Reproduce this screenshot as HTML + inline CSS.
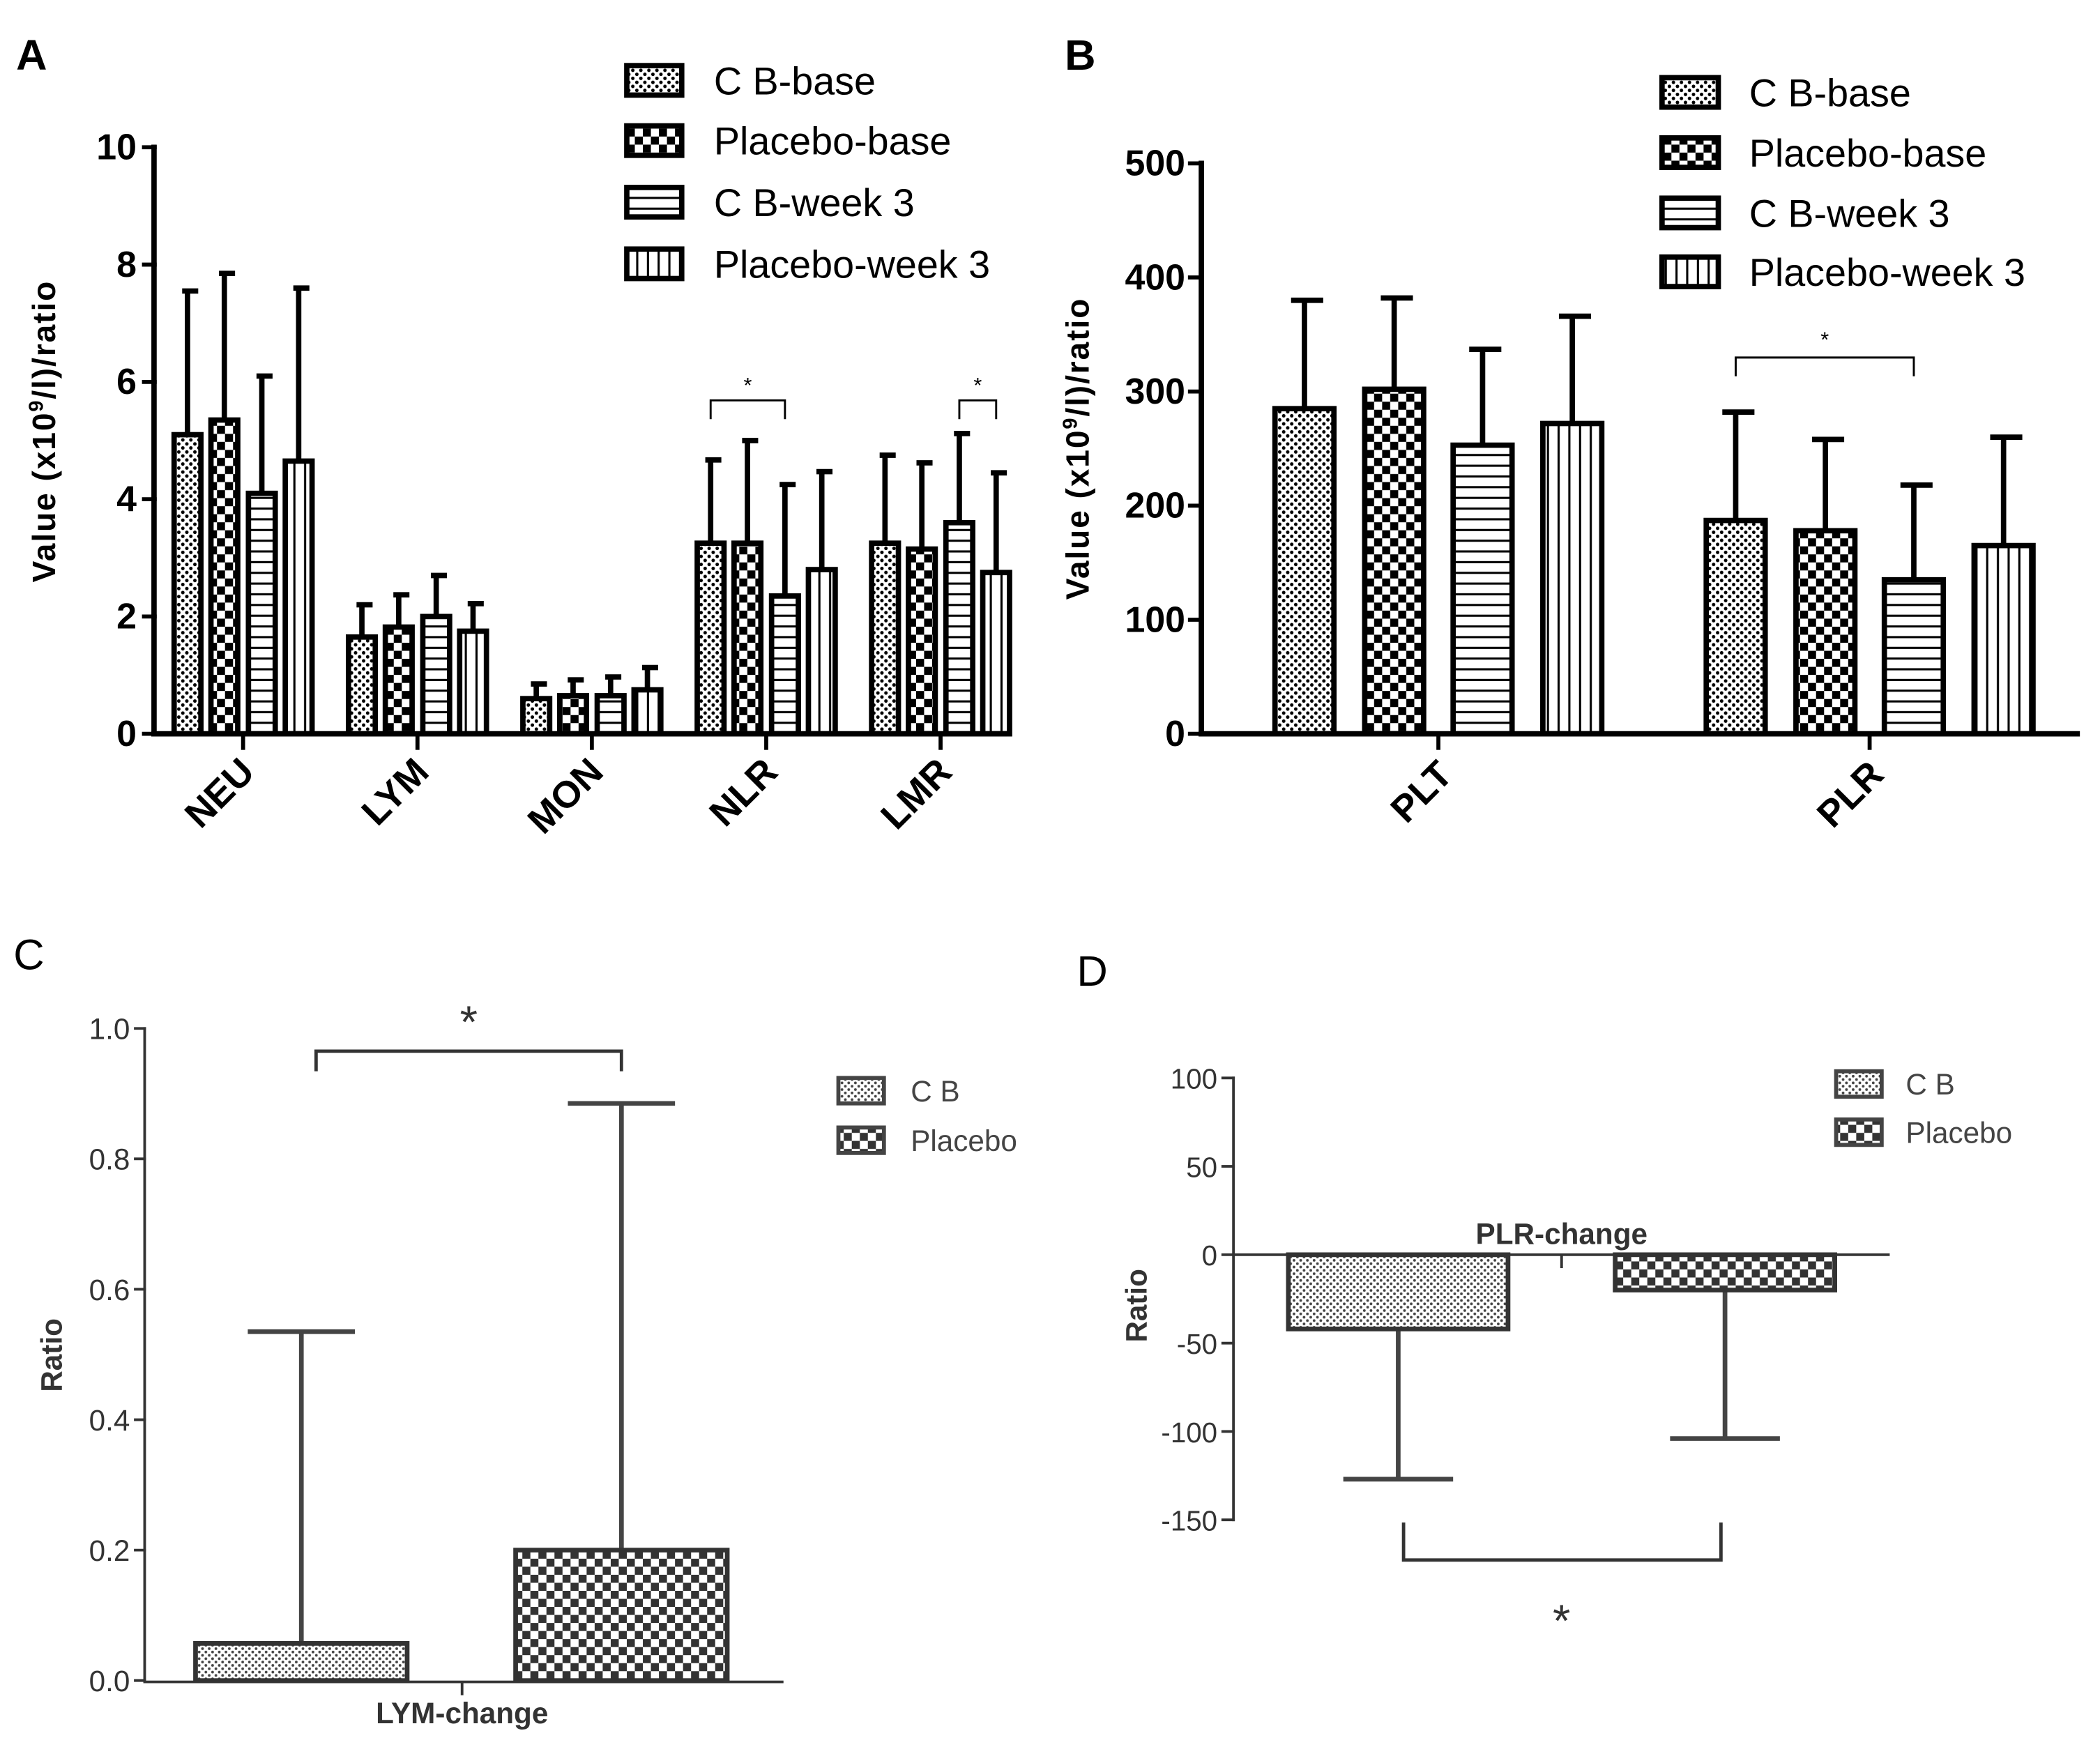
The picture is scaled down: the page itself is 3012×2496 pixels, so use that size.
<!DOCTYPE html>
<html><head><meta charset="utf-8"><style>
html,body{margin:0;padding:0;background:#fff;}
svg{display:block;font-family:"Liberation Sans",sans-serif;}
</style></head><body>
<svg id="fig" width="3012" height="2496" viewBox="0 0 1568 1299.4" xmlns="http://www.w3.org/2000/svg">
<defs>
<pattern id="pDots" patternUnits="userSpaceOnUse" width="6" height="6"><rect width="6" height="6" fill="#fff"/><circle cx="1.5" cy="1.5" r="1.3" fill="#000"/><circle cx="4.5" cy="4.5" r="1.3" fill="#000"/></pattern>
<pattern id="pCheck" patternUnits="userSpaceOnUse" width="12" height="12"><rect width="12" height="12" fill="#fff"/><rect width="6" height="6" fill="#000"/><rect x="6" y="6" width="6" height="6" fill="#000"/></pattern>
<pattern id="pHor" patternUnits="userSpaceOnUse" width="8" height="8"><rect width="8" height="8" fill="#fff"/><rect y="3" width="8" height="1.6" fill="#000"/></pattern>
<pattern id="pVer" patternUnits="userSpaceOnUse" width="8" height="8"><rect width="8" height="8" fill="#fff"/><rect x="3" width="1.6" height="8" fill="#000"/></pattern>
<pattern id="pDotsG" patternUnits="userSpaceOnUse" width="5" height="5"><rect width="5" height="5" fill="#fff"/><circle cx="1.2" cy="1.2" r="1" fill="#444"/><circle cx="3.7" cy="3.7" r="1" fill="#444"/></pattern>
<pattern id="pCheckG" patternUnits="userSpaceOnUse" width="12" height="12"><rect width="12" height="12" fill="#fff"/><rect width="6" height="6" fill="#333"/><rect x="6" y="6" width="6" height="6" fill="#333"/></pattern>
</defs>
<g id="root"></g>
</svg>
<script>
// ---- Panel A data ----
const catsA = ["NEU","LYM","MON","NLR","LMR"];
const seriesNames = ["CB-base","Placebo-base","CB-week 3","Placebo-week 3"];
const legendLabels = ["C B-base","Placebo-base","C B-week 3","Placebo-week 3"];
const meanA = [[5.1,1.65,0.6,3.25,3.25],[5.35,1.82,0.65,3.25,3.15],[4.1,2.0,0.65,2.35,3.6],[4.65,1.75,0.75,2.8,2.75]];
const topA  = [[7.55,2.2,0.85,4.67,4.75],[7.85,2.37,0.92,5.0,4.62],[6.1,2.7,0.97,4.25,5.12],[7.6,2.22,1.13,4.47,4.45]];
const ticksA = [0,2,4,6,8,10];
// ---- Panel B data ----
const catsB = ["PLT","PLR"];
const meanB = [[285,187],[302,178],[253,135],[272,165]];
const topB  = [[380,282],[382,258],[337,218],[366,260]];
const ticksB = [0,100,200,300,400,500];
// ---- Panel C data ----
const catsC = ["C B","Placebo"];
const meanC = [0.057,0.2];
const errC  = [0.535,0.885];
const ticksC = ["0.0","0.2","0.4","0.6","0.8","1.0"];
// ---- Panel D data ----
const meanD = [-42,-20];
const errD  = [-127,-104];
const ticksD = [100,50,0,-50,-100,-150];

const NS="http://www.w3.org/2000/svg";
const root=document.getElementById('root');
function el(tag,attrs,parent,text){const e=document.createElementNS(NS,tag);for(const k in attrs)e.setAttribute(k,attrs[k]);if(text!==undefined)e.textContent=text;(parent||root).appendChild(e);return e;}
const pats=["url(#pDots)","url(#pCheck)","url(#pHor)","url(#pVer)"];

// ===== Panel A =====
const gA=el('g',{});


const yA=v=>548-v*43.8;
const xA=i=>181.5+i*130.2;
const offA=[-41.5,-14,14,41.5];
let t=el('text',{x:12,y:52,'font-size':32,'font-weight':'bold'},gA,'A');

ticksA.forEach(v=>{
  let l=el('line',{x1:106,x2:117,y1:yA(v),y2:yA(v),stroke:'#000','stroke-width':3},gA);
  
  let tx=el('text',{x:102,y:yA(v)+9,'font-size':27,'font-weight':'bold','text-anchor':'end'},gA,String(v));
  
});
t=el('text',{transform:'translate(41,322) rotate(-90)','font-size':24,'font-weight':'bold','text-anchor':'middle','letter-spacing':1},gA);

t.innerHTML='Value (x10<tspan dy="-9" font-size="15">9</tspan><tspan dy="9">/l)/ratio</tspan>';
catsA.forEach((c,i)=>{
  for(let s=0;s<4;s++){
    const cx=xA(i)+offA[s],w=20;
    let e=el('line',{x1:cx,x2:cx,y1:yA(meanA[s][i]),y2:yA(topA[s][i]),stroke:'#000','stroke-width':4},gA);
    
    e=el('line',{x1:cx-4,x2:cx+8,y1:yA(topA[s][i]),y2:yA(topA[s][i]),stroke:'#000','stroke-width':4},gA);
    
    let r=el('rect',{x:cx-w/2,y:yA(meanA[s][i]),width:w,height:yA(0)-yA(meanA[s][i]),fill:pats[s],stroke:'#000','stroke-width':4},gA);
    
  }
  let tk=el('line',{x1:xA(i),x2:xA(i),y1:548,y2:560,stroke:'#000','stroke-width':3},gA);
  
  let lb=el('text',{transform:`translate(${xA(i)+10},578) rotate(-45)`,'font-size':28,'font-weight':'bold','text-anchor':'end'},gA,c);
  
});
let ax=el('line',{x1:115,x2:115,y1:108,y2:550,stroke:'#000','stroke-width':4},gA);

ax=el('line',{x1:113,x2:752,y1:548,y2:548,stroke:'#000','stroke-width':4},gA);

function bracket(g,x1,x2,y,drop,star,sy,fs){
  let p=el('path',{d:`M${x1},${y+drop} V${y} H${x2} V${y+drop}`,fill:'none',stroke:'#000','stroke-width':1.5},g);
  
  let s=el('text',{x:(x1+x2)/2,y:sy,'font-size':fs,'text-anchor':'middle'},g,'*');
  
}
bracket(gA,xA(3)+offA[0],xA(3)+offA[2],299,14,'*',293,16);
bracket(gA,xA(4)+offA[2],xA(4)+offA[3],299,14,'*',293,16);
function legend(g,x,ys,labels,fills,w,h,fs,tx,col,sw){
  labels.forEach((lab,i)=>{
    let b=el('rect',{x:x,y:ys[i],width:w,height:h,fill:fills[i],stroke:col,'stroke-width':sw},g);
    
    let tt=el('text',{x:tx,y:ys[i]+h/2+fs*0.36,'font-size':fs,fill:col==='#000'?'#000':'#444'},g,lab);
    
  });
}
legend(gA,468,[49,94,140,186],legendLabels,pats,41,22,29,533,'#000',4);

// ===== Panel B =====
const gB=el('g',{});


const yB=v=>548-v*0.852;
const xB=i=>1074+i*322;
const offB=[-100,-33,33,100];
t=el('text',{x:795,y:52,'font-size':32,'font-weight':'bold'},gB,'B');

ticksB.forEach(v=>{
  let l=el('line',{x1:887,x2:898,y1:yB(v),y2:yB(v),stroke:'#000','stroke-width':3},gB);
  
  let tx=el('text',{x:885,y:yB(v)+9,'font-size':27,'font-weight':'bold','text-anchor':'end'},gB,String(v));
  
});
t=el('text',{transform:'translate(813,335) rotate(-90)','font-size':24,'font-weight':'bold','text-anchor':'middle','letter-spacing':1},gB);

t.innerHTML='Value (x10<tspan dy="-9" font-size="15">9</tspan><tspan dy="9">/l)/ratio</tspan>';
catsB.forEach((c,i)=>{
  for(let s=0;s<4;s++){
    const cx=xB(i)+offB[s],w=44;
    let e=el('line',{x1:cx,x2:cx,y1:yB(meanB[s][i]),y2:yB(topB[s][i]),stroke:'#000','stroke-width':4},gB);
    
    e=el('line',{x1:cx-10,x2:cx+14,y1:yB(topB[s][i]),y2:yB(topB[s][i]),stroke:'#000','stroke-width':4},gB);
    
    let r=el('rect',{x:cx-w/2,y:yB(meanB[s][i]),width:w,height:yB(0)-yB(meanB[s][i]),fill:pats[s],stroke:'#000','stroke-width':4},gB);
    
  }
  let tk=el('line',{x1:xB(i),x2:xB(i),y1:548,y2:560,stroke:'#000','stroke-width':3},gB);
  
  let lb=el('text',{transform:`translate(${xB(i)+12},580) rotate(-45)`,'font-size':28,'font-weight':'bold','text-anchor':'end'},gB,c);
  
});
ax=el('line',{x1:897,x2:897,y1:120,y2:550,stroke:'#000','stroke-width':4},gB);

ax=el('line',{x1:895,x2:1553,y1:548,y2:548,stroke:'#000','stroke-width':4},gB);

bracket(gB,xB(1)+offB[0],xB(1)+offB[2],267,14,'*',259,16);
legend(gB,1241,[58,103,148,192],legendLabels,pats,42,22,29,1306,'#000',4);

// ===== Panel C =====
const gC=el('g',{});


const yC=v=>1255-v*487;
const xC=[225,464];
const fillsG=["url(#pDotsG)","url(#pCheckG)"];
t=el('text',{x:10,y:724,'font-size':32},gC,'C');

ticksC.forEach(v=>{
  const y=yC(parseFloat(v));
  let l=el('line',{x1:100,x2:109,y1:y,y2:y,stroke:'#333','stroke-width':2},gC);
  
  let tx=el('text',{x:97,y:y+8,'font-size':22,'text-anchor':'end',fill:'#333'},gC,v);
  
});
t=el('text',{transform:'translate(46,1012) rotate(-90)','font-size':22,'font-weight':'bold','text-anchor':'middle',fill:'#333'},gC,'Ratio');

meanC.forEach((m,i)=>{
  const cx=xC[i];
  let e=el('line',{x1:cx,x2:cx,y1:yC(m),y2:yC(errC[i]),stroke:'#444','stroke-width':3.5},gC);
  
  e=el('line',{x1:cx-40,x2:cx+40,y1:yC(errC[i]),y2:yC(errC[i]),stroke:'#444','stroke-width':3.5},gC);
  
  let r=el('rect',{x:cx-79,y:yC(m),width:158,height:yC(0)-yC(m),fill:fillsG[i],stroke:'#333','stroke-width':3.5},gC);
  
});
ax=el('line',{x1:108,x2:108,y1:767,y2:1256,stroke:'#333','stroke-width':2},gC);

ax=el('line',{x1:107,x2:585,y1:1256,y2:1256,stroke:'#333','stroke-width':2},gC);

ax=el('line',{x1:345,x2:345,y1:1256,y2:1266,stroke:'#333','stroke-width':2},gC);

t=el('text',{x:345,y:1287,'font-size':22,'font-weight':'bold','text-anchor':'middle',fill:'#333'},gC,'LYM-change');

let p=el('path',{d:'M236,800 V785 H464 V800',fill:'none',stroke:'#333','stroke-width':2.5},gC);

t=el('text',{x:350,y:775,'font-size':34,'text-anchor':'middle',fill:'#333'},gC,'*');

legend(gC,626,[805,842],catsC,fillsG,34,19,22,680,'#444',3);

// ===== Panel D =====
const gD=el('g',{});


const yD=v=>937-v*1.32;
const xD=[1044,1288];
t=el('text',{x:804,y:736,'font-size':32},gD,'D');

ticksD.forEach(v=>{
  let l=el('line',{x1:912,x2:922,y1:yD(v),y2:yD(v),stroke:'#333','stroke-width':2},gD);
  
  let tx=el('text',{x:909,y:yD(v)+8,'font-size':21,'text-anchor':'end',fill:'#333'},gD,String(v));
  
});
t=el('text',{transform:'translate(856,975) rotate(-90)','font-size':22,'font-weight':'bold','text-anchor':'middle',fill:'#333'},gD,'Ratio');

meanD.forEach((m,i)=>{
  const cx=xD[i];
  let e=el('line',{x1:cx,x2:cx,y1:yD(m),y2:yD(errD[i]),stroke:'#444','stroke-width':3.5},gD);
  
  e=el('line',{x1:cx-41,x2:cx+41,y1:yD(errD[i]),y2:yD(errD[i]),stroke:'#444','stroke-width':3.5},gD);
  
  let r=el('rect',{x:cx-82,y:yD(0),width:164,height:yD(m)-yD(0),fill:fillsG[i],stroke:'#333','stroke-width':3.5},gD);
  
});
ax=el('line',{x1:921,x2:921,y1:804,y2:1136,stroke:'#333','stroke-width':2},gD);

ax=el('line',{x1:920,x2:1411,y1:937,y2:937,stroke:'#333','stroke-width':2},gD);

ax=el('line',{x1:1166,x2:1166,y1:937,y2:947,stroke:'#333','stroke-width':2},gD);

t=el('text',{x:1166,y:929,'font-size':22,'font-weight':'bold','text-anchor':'middle',fill:'#333'},gD,'PLR-change');

p=el('path',{d:'M1048,1137 V1165 H1285 V1137',fill:'none',stroke:'#333','stroke-width':2.5},gD);

t=el('text',{x:1166,y:1222,'font-size':34,'text-anchor':'middle',fill:'#333'},gD,'*');

legend(gD,1371,[800,836],catsC,fillsG,34,19,22,1423,'#444',3);
</script>
</body></html>
